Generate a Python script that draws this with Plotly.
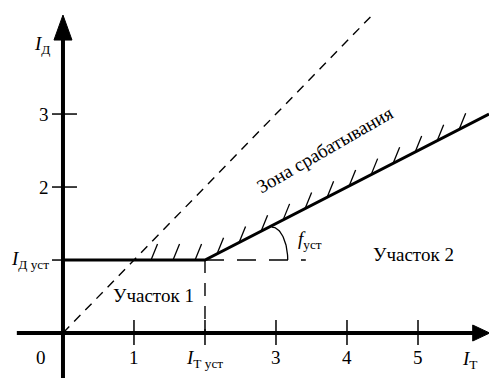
import numpy as np
import plotly.graph_objects as go

# Differential protection characteristic: I_Д (differential) vs I_Т (restraint)
i_t_set = 2.0          # I_Т уст, knee point on the restraint axis
i_d_set = 1.0          # I_Д уст, pickup on the differential axis
slope = 0.5            # slope of section 2
i_t_end = 6.0          # right end of the sloped section

# Operating characteristic (section 1 flat, section 2 sloped)
char_x = [0.0, i_t_set, i_t_end]
char_y = [i_d_set, i_d_set, i_d_set + slope * (i_t_end - i_t_set)]

# I_Д = I_Т reference line
diag_x = [0.0, 4.33]
diag_y = [0.0, 4.33]

# Axis ticks and labels
x_ticks = [1, 2, 3, 4, 5]
x_tick_labels = ["1", "<i>I</i><sub>Т уст</sub>", "3", "4", "5"]
y_ticks = [1, 2, 3]
y_tick_labels = ["<i>I</i><sub>Д уст</sub>", "2", "3"]

# Canvas geometry (px) and data ranges
W, H = 489, 378
x_range = [-0.887, 6.0]
y_range = [-0.616, 4.562]
px_x = W / (x_range[1] - x_range[0])   # px per unit along I_Т
px_y = H / (y_range[1] - y_range[0])   # px per unit along I_Д

FONT = "Liberation Serif, Times New Roman, serif"
BLACK = "#000000"

fig = go.Figure()


def seg_trace(xs, ys, width, dash="solid"):
    fig.add_trace(go.Scatter(
        x=xs, y=ys, mode="lines", hoverinfo="skip", showlegend=False,
        line=dict(color=BLACK, width=width, dash=dash)))


# Axes
seg_trace([-0.65, 5.85], [0, 0], 4)
seg_trace([0, 0], [y_range[0], 4.1], 4)

# Arrowheads
ax_tip, ax_len, ax_half = 6.01, 17 / px_x, 8 / px_y
fig.add_trace(go.Scatter(
    x=[ax_tip, ax_tip - ax_len, ax_tip - ax_len, ax_tip],
    y=[0, ax_half, -ax_half, 0], mode="lines", fill="toself",
    fillcolor=BLACK, line=dict(color=BLACK, width=1),
    hoverinfo="skip", showlegend=False))
ay_tip, ay_len, ay_half = 4.356, 25 / px_y, 9 / px_x
fig.add_trace(go.Scatter(
    x=[0, ay_half, -ay_half, 0],
    y=[ay_tip, ay_tip - ay_len, ay_tip - ay_len, ay_tip], mode="lines",
    fill="toself", fillcolor=BLACK, line=dict(color=BLACK, width=1),
    hoverinfo="skip", showlegend=False))

# Tick marks crossing the axes
tx, ty = [], []
for t in x_ticks:
    tx += [t, t, None]
    ty += [-12 / px_y, 13 / px_y, None]
seg_trace(tx, ty, 1.5)
tx, ty = [], []
for t in y_ticks:
    tx += [-11 / px_x, 14 / px_x, None]
    ty += [t, t, None]
seg_trace(tx, ty, 1.5)

# Reference line I_Д = I_Т
seg_trace(diag_x, diag_y, 1.4, "9px,7px")

# Construction lines from the knee point
seg_trace([i_t_set, i_t_set], [i_d_set, 0], 1.4, "13px,10px")
seg_trace([i_t_set, 3.42], [i_d_set, i_d_set], 1.4, "19px,13px")

# Characteristic
seg_trace(char_x, char_y, 3)

# Hatching on the operating side of the characteristic
hatch_pos = np.arange(1.24, 5.7, 0.31)
hdx, hdy = 6.5 / px_x, 16 / px_y
hx, hy = [], []
for xp in hatch_pos:
    yp = i_d_set if xp <= i_t_set else i_d_set + slope * (xp - i_t_set)
    hx += [xp, xp + hdx, None]
    hy += [yp, yp + hdy, None]
seg_trace(hx, hy, 1.3)

# Angle mark for the slope
arc_cx, arc_a, arc_b = 2.94, 16 / px_x, 33 / px_y
th = np.linspace(np.pi / 2, 0, 40)
seg_trace(list(arc_cx + arc_a * np.cos(th)),
          list(i_d_set + arc_b * np.sin(th)), 1.3)


def label(x, y, text, size=19, xanchor="center", angle=0):
    fig.add_annotation(x=x, y=y, text=text, showarrow=False,
                       xanchor=xanchor, yanchor="middle", textangle=angle,
                       font=dict(family=FONT, size=size, color=BLACK))


for t, s in zip(x_ticks, x_tick_labels):
    label(t, -0.34 if t != i_t_set else -0.36, s)
for t, s in zip(y_ticks, y_tick_labels):
    label(-0.17, t, s, xanchor="right")
label(-0.31, -0.34, "0")
label(-0.15, 3.95, "<i>I</i><sub>Д</sub>", xanchor="right")
label(5.73, -0.37, "<i>I</i><sub>Т</sub>")
label(1.28, 0.52, "Участок 1")
label(4.93, 1.08, "Участок 2")
label(3.48, 1.27, "<i>f</i><sub>уст</sub>")
label(3.69, 2.51, "Зона срабатывания", size=19, angle=-30)

fig.update_layout(
    width=W, height=H, autosize=False,
    margin=dict(l=0, r=0, t=0, b=0),
    paper_bgcolor="white", plot_bgcolor="white",
    xaxis=dict(range=x_range, visible=False, fixedrange=True),
    yaxis=dict(range=y_range, visible=False, fixedrange=True),
    showlegend=False,
)

fig.write_html("out.html")
